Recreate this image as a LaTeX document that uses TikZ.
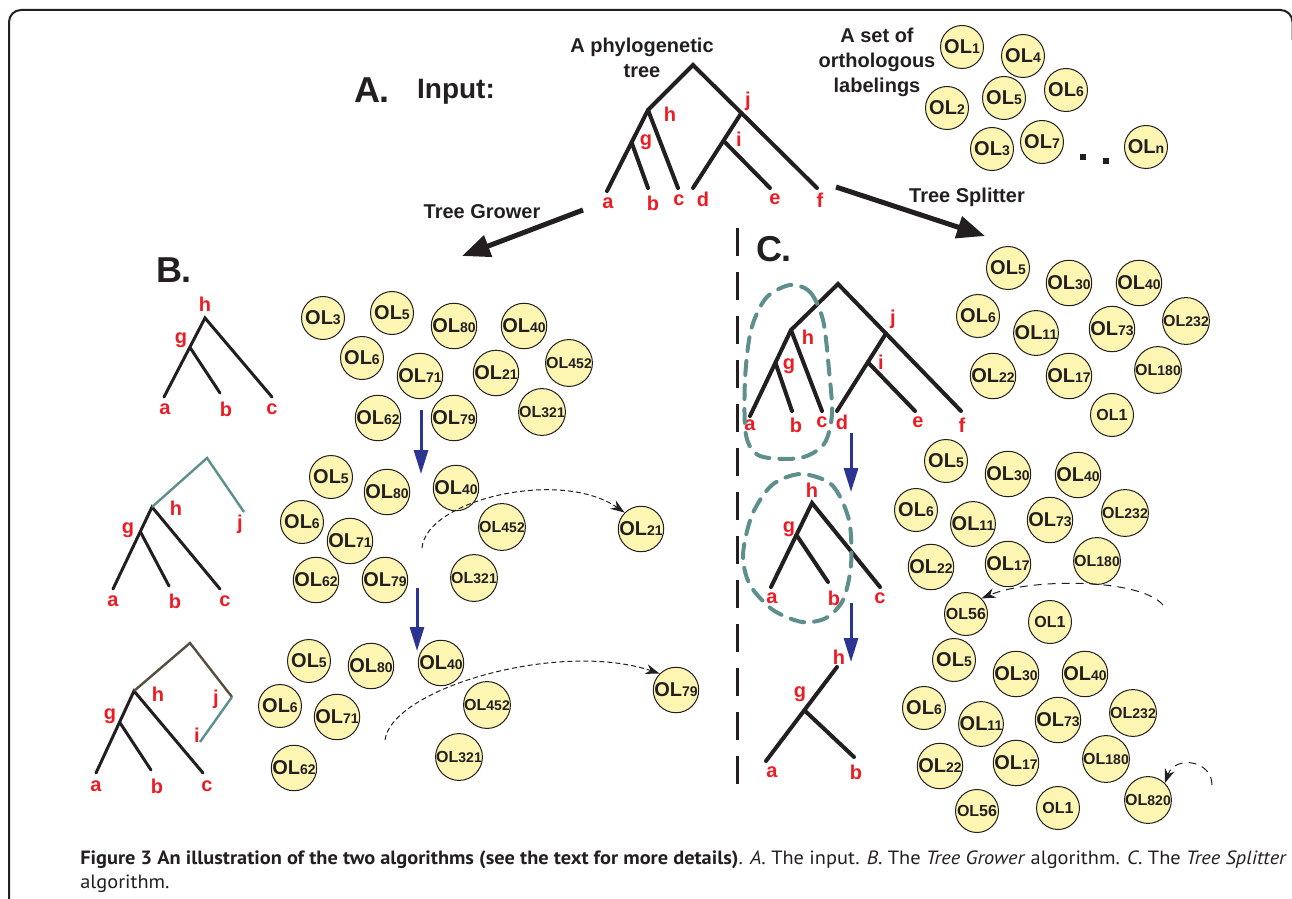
\documentclass[tikz,border=0pt]{standalone}
\usepackage{fontspec}
\setmainfont{Liberation Sans}
\newfontfamily\capfont{PT Sans}
\usetikzlibrary{positioning,arrows.meta,calc}

\definecolor{olfill}{RGB}{252,246,178}
\definecolor{labred}{RGB}{237,28,36}
\definecolor{clteal}{RGB}{93,143,140}
\definecolor{brn}{RGB}{88,78,64}
\definecolor{arrblue}{RGB}{43,52,145}
\definecolor{ink}{RGB}{35,31,32}

\newcommand{\ols}[1]{OL{\fontsize{7}{7}\selectfont #1}}

\tikzset{
  ol/.style={circle,draw=ink,line width=0.5pt,fill=olfill,minimum size=21.5pt,inner sep=0pt,text=ink,font=\bfseries\fontsize{10}{10}\selectfont},
  olsm/.style={ol,font=\bfseries\fontsize{8}{8}\selectfont},
  lab/.style={text=labred,inner sep=0pt,font=\bfseries\fontsize{10}{10}\selectfont},
  heading/.style={text=ink,inner sep=0pt,align=center,font=\bfseries\fontsize{10}{12.5}\selectfont},
  bigletter/.style={text=ink,inner sep=0pt,font=\bfseries\fontsize{18}{18}\selectfont},
  thickbr/.style={draw=ink,line width=2pt,line cap=round},
  thinbr/.style={draw=ink,line width=1.5pt,line cap=round},
  bigarrow/.style={draw=ink,line width=2.5pt,-{Triangle[length=14pt,width=11pt]}},
  bluearrow/.style={draw=arrblue,line width=1.5pt,-{Triangle[length=12pt,width=7pt]}},
  movearrow/.style={draw=ink,line width=0.5pt,dash pattern=on 2.5pt off 1.5pt,-{Stealth[length=7pt,width=5pt]}},
  movearrowc/.style={movearrow,dash pattern=on 4pt off 3pt},
  blob/.style={draw=clteal,line width=2pt,dash pattern=on 7pt off 5pt,line cap=round},
  dotsq/.style={fill=ink,minimum size=3pt,inner sep=0pt},
  captext/.style={anchor=base west,inner sep=0pt,text=ink,font=\capfont\fontsize{9.6}{11}\selectfont},
}

\begin{document}
\begin{tikzpicture}[x=0.5pt,y=-0.5pt]
\useasboundingbox (0,0) rectangle (1292,899);

% frame
\draw[ink,line width=1pt,rounded corners=6pt] (9,910) -- (9,10) -- (1292.5,10) -- (1292.5,40);

% A. input
\node[bigletter] (tA) at (372,90) {A.};
\node[bigletter,font=\bfseries\fontsize{14}{14}\selectfont] (tInput) at (456,92) {Input:};
\node[heading] (tPhylo) at (642,58) {A phylogenetic\\tree};
\node[heading] (tSet) at (877,62) {A set of\\orthologous\\labelings};

\coordinate (Aroot) at (693,65);
\coordinate (Ah) at (648,110);
\coordinate (Aa) at (607,191);
\coordinate (Ag) at ($(Ah)!0.4!(Aa)$);
\coordinate (Ab) at (648,188);
\coordinate (Ac) at (678,188);
\coordinate (Af) at (817,188);
\coordinate (Aj) at ($(Aroot)!0.39!(Af)$);
\coordinate (Ad) at (693,188);
\coordinate (Ai) at ($(Aj)!0.37!(Ad)$);
\coordinate (Ae) at (770,188);
\draw[thickbr] (Aa) -- (Ah) -- (Aroot) -- (Af);
\draw[thickbr] (Ag) -- (Ab);
\draw[thickbr] (Ah) -- (Ac);
\draw[thickbr] (Aj) -- (Ad);
\draw[thickbr] (Ai) -- (Ae);

\node[lab] (lAa) at (608,203) {a};
\node[lab] (lAb) at (653,203) {b};
\node[lab] (lAc) at (679,200) {c};
\node[lab] (lAd) at (703,199) {d};
\node[lab] (lAe) at (775,199) {e};
\node[lab] (lAf) at (820,200) {f};
\node[lab] (lAg) at (646,142) {g};
\node[lab] (lAh) at (670,114) {h};
\node[lab] (lAi) at (739,139) {i};
\node[lab] (lAj) at (748,101) {j};

\node[ol] (aol1) at (962,47) {\ols{1}};
\node[ol] (aol4) at (1023,56) {\ols{4}};
\node[ol] (aol6) at (1066,90) {\ols{6}};
\node[ol] (aol5) at (1004,98) {\ols{5}};
\node[ol] (aol2) at (947,108) {\ols{2}};
\node[ol] (aol3) at (992,149) {\ols{3}};
\node[ol] (aol7) at (1042,142) {\ols{7}};
\node[ol] (aoln) at (1146,147) {\ols{n}};
\node[dotsq] (dot1) at (1083,157) {};
\node[dotsq] (dot2) at (1106,161) {};

% the two algorithms
\coordinate (grS) at (583,210);
\coordinate (grE) at (462,256);
\coordinate (spS) at (836,187);
\coordinate (spE) at (985,236);
\draw[bigarrow] (grS) -- (grE);
\draw[bigarrow] (spS) -- (spE);
\node[heading] (tGrower) at (482,212) {Tree Grower};
\node[heading] (tSplitter) at (967,197) {Tree Splitter};

\coordinate (sepT) at (737,228);
\coordinate (sepB) at (737,790);
\draw[ink,line width=1.5pt,dash pattern=on 14pt off 8pt] (sepT) -- (sepB);

% B. tree grower
\node[bigletter] (tB) at (174,270) {B.};

\coordinate (B1h) at (205,318);
\coordinate (B1a) at (164,397);
\coordinate (B1g) at ($(B1h)!0.37!(B1a)$);
\coordinate (B1b) at (220,393);
\coordinate (B1c) at (272,397);
\draw[thinbr] (B1a) -- (B1h) -- (B1c);
\draw[thinbr] (B1g) -- (B1b);
\node[lab] (lB1h) at (205,304) {h};
\node[lab] (lB1g) at (181,340) {g};
\node[lab] (lB1a) at (165,409) {a};
\node[lab] (lB1b) at (226,409) {b};
\node[lab] (lB1c) at (272,409) {c};

\coordinate (B2top) at (207,458);
\coordinate (B2h) at (152,507);
\coordinate (B2j) at (244,512);
\coordinate (B2a) at (113,589);
\coordinate (B2g) at ($(B2h)!0.3!(B2a)$);
\coordinate (B2b) at (169,586);
\coordinate (B2c) at (220,589);
\draw[thinbr] (B2a) -- (B2h) -- (B2c);
\draw[thinbr] (B2g) -- (B2b);
\draw[clteal,line width=1.2pt] (B2h) -- (B2top) -- (B2j);
\node[lab] (lB2h) at (176,508) {h};
\node[lab] (lB2j) at (240,524) {j};
\node[lab] (lB2g) at (128,530) {g};
\node[lab] (lB2a) at (113,601) {a};
\node[lab] (lB2b) at (175,601) {b};
\node[lab] (lB2c) at (225,601) {c};

\coordinate (B3top) at (190,643);
\coordinate (B3h) at (134,691);
\coordinate (B3j) at (232,697);
\coordinate (B3i) at (200,742);
\coordinate (B3a) at (96,773);
\coordinate (B3g) at ($(B3h)!0.38!(B3a)$);
\coordinate (B3b) at (151,770);
\coordinate (B3c) at (203,773);
\draw[thinbr] (B3a) -- (B3h) -- (B3c);
\draw[thinbr] (B3g) -- (B3b);
\draw[brn,line width=1.2pt] (B3h) -- (B3top) -- (B3j);
\draw[clteal,line width=1.2pt] (B3j) -- (B3i);
\node[lab] (lB3h) at (158,694) {h};
\node[lab] (lB3j) at (216,699) {j};
\node[lab] (lB3i) at (197,735) {i};
\node[lab] (lB3g) at (110,716) {g};
\node[lab] (lB3a) at (96,786) {a};
\node[lab] (lB3b) at (157,786) {b};
\node[lab] (lB3c) at (207,786) {c};

\node[ol] (b1ol3) at (323,318) {\ols{3}};
\node[ol] (b1ol5) at (392,313) {\ols{5}};
\node[ol] (b1ol80) at (454,326) {\ols{80}};
\node[ol] (b1ol40) at (524,326) {\ols{40}};
\node[ol] (b1ol6) at (362,358) {\ols{6}};
\node[ol] (b1ol71) at (420,376) {\ols{71}};
\node[ol] (b1ol21) at (496,373) {\ols{21}};
\node[olsm] (b1ol452) at (569,363) {\ols{452}};
\node[ol] (b1ol62) at (378,418) {\ols{62}};
\node[ol] (b1ol79) at (454,418) {\ols{79}};
\node[olsm] (b1ol321) at (542,412) {\ols{321}};

\node[ol] (b2ol5) at (331,477) {\ols{5}};
\node[ol] (b2ol80) at (387,492) {\ols{80}};
\node[ol] (b2ol40) at (456,488) {\ols{40}};
\node[ol] (b2ol6) at (302,522) {\ols{6}};
\node[ol] (b2ol71) at (350,541) {\ols{71}};
\node[olsm] (b2ol452) at (502,527) {\ols{452}};
\node[ol] (b2ol62) at (316,580) {\ols{62}};
\node[ol] (b2ol79) at (385,580) {\ols{79}};
\node[olsm] (b2ol321) at (474,578) {\ols{321}};
\node[ol] (b2ol21) at (641,529) {\ols{21}};

\node[ol] (b3ol5) at (309,661) {\ols{5}};
\node[ol] (b3ol80) at (371,666) {\ols{80}};
\node[ol] (b3ol40) at (441,663) {\ols{40}};
\node[ol] (b3ol6) at (280,706) {\ols{6}};
\node[ol] (b3ol71) at (337,717) {\ols{71}};
\node[olsm] (b3ol452) at (487,705) {\ols{452}};
\node[ol] (b3ol62) at (294,768) {\ols{62}};
\node[olsm] (b3ol321) at (459,757) {\ols{321}};
\node[ol] (b3ol79) at (676,690) {\ols{79}};

\coordinate (bl1S) at (421,410);
\coordinate (bl1E) at (421,474);
\coordinate (bl2S) at (417,588);
\coordinate (bl2E) at (417,651);
\draw[bluearrow] (bl1S) -- (bl1E);
\draw[bluearrow] (bl2S) -- (bl2E);

\coordinate (mv1S) at (422,548);
\coordinate (mv2S) at (385,740);
\draw[movearrow] (mv1S) .. controls (426,500) and (560,468) .. (b2ol21.north west);
\draw[movearrow] (mv2S) .. controls (392,688) and (560,640) .. (b3ol79.north west);

% C. tree splitter
\node[bigletter] (tC) at (774,249) {C.};

\coordinate (C1root) at (838,284);
\coordinate (C1h) at (791,330);
\coordinate (C1a) at (750,416);
\coordinate (C1g) at ($(C1h)!0.38!(C1a)$);
\coordinate (C1b) at (792,411);
\coordinate (C1c) at (822,411);
\coordinate (C1f) at (961,411);
\coordinate (C1j) at ($(C1root)!0.39!(C1f)$);
\coordinate (C1d) at (837,411);
\coordinate (C1i) at ($(C1j)!0.37!(C1d)$);
\coordinate (C1e) at (915,411);
\draw[thickbr] (C1a) -- (C1h) -- (C1root) -- (C1f);
\draw[thickbr] (C1g) -- (C1b);
\draw[thickbr] (C1h) -- (C1c);
\draw[thickbr] (C1j) -- (C1d);
\draw[thickbr] (C1i) -- (C1e);
\node[lab] (lC1h) at (808,337) {h};
\node[lab] (lC1g) at (789,366) {g};
\node[lab] (lC1i) at (881,362) {i};
\node[lab] (lC1j) at (893,319) {j};
\node[lab] (lC1a) at (750,425) {a};
\node[lab] (lC1b) at (796,425) {b};
\node[lab] (lC1c) at (822,422) {c};
\node[lab] (lC1d) at (842,422) {d};
\node[lab] (lC1e) at (918,422) {e};
\node[lab] (lC1f) at (962,425) {f};
\draw[blob] plot[smooth cycle] coordinates {(790,285) (810,292) (823,320) (829,370) (832,414) (824,444) (800,458) (760,456) (746,435) (745,380) (751,330) (766,298)};

\coordinate (C2h) at (812,503);
\coordinate (C2a) at (771,587);
\coordinate (C2g) at ($(C2h)!0.38!(C2a)$);
\coordinate (C2b) at (828,582);
\coordinate (C2c) at (880,587);
\draw[thickbr] (C2a) -- (C2h) -- (C2c);
\draw[thickbr] (C2g) -- (C2b);
\node[lab] (lC2h) at (812,490) {h};
\node[lab] (lC2g) at (789,529) {g};
\node[lab] (lC2a) at (772,598) {a};
\node[lab] (lC2b) at (834,598) {b};
\node[lab] (lC2c) at (880,598) {c};
\draw[blob] plot[smooth cycle] coordinates {(801,474) (832,485) (849,520) (851,565) (843,600) (826,618) (802,622) (773,610) (750,585) (743,555) (752,515) (772,485)};

\coordinate (C3h) at (837,667);
\coordinate (C3a) at (766,761);
\coordinate (C3g) at ($(C3h)!0.46!(C3a)$);
\coordinate (C3b) at (854,757);
\draw[thickbr] (C3a) -- (C3h);
\draw[thickbr] (C3g) -- (C3b);
\node[lab] (lC3h) at (839,657) {h};
\node[lab] (lC3g) at (800,694) {g};
\node[lab] (lC3a) at (772,772) {a};
\node[lab] (lC3b) at (856,772) {b};

\coordinate (cb1S) at (851,433);
\coordinate (cb1E) at (851,492);
\coordinate (cb2S) at (851,603);
\coordinate (cb2E) at (851,662);
\draw[bluearrow] (cb1S) -- (cb1E);
\draw[bluearrow] (cb2S) -- (cb2E);

\node[ol] (c1ol5) at (1008,268) {\ols{5}};
\node[ol] (c1ol30) at (1069,283) {\ols{30}};
\node[ol] (c1ol40) at (1139,283) {\ols{40}};
\node[ol] (c1ol6) at (978,316) {\ols{6}};
\node[ol] (c1ol11) at (1036,333) {\ols{11}};
\node[ol] (c1ol73) at (1112,329) {\ols{73}};
\node[olsm] (c1ol232) at (1186,321) {\ols{232}};
\node[ol] (c1ol22) at (993,376) {\ols{22}};
\node[ol] (c1ol17) at (1069,376) {\ols{17}};
\node[olsm] (c1ol180) at (1158,370) {\ols{180}};
\node[olsm] (c1ol1) at (1112,415) {OL1};

\node[ol] (c2ol5) at (946,461) {\ols{5}};
\node[ol] (c2ol30) at (1008,474) {\ols{30}};
\node[ol] (c2ol40) at (1078,475) {\ols{40}};
\node[ol] (c2ol6) at (916,510) {\ols{6}};
\node[ol] (c2ol11) at (973,524) {\ols{11}};
\node[ol] (c2ol73) at (1050,520) {\ols{73}};
\node[olsm] (c2ol232) at (1125,513) {\ols{232}};
\node[ol] (c2ol22) at (931,567) {\ols{22}};
\node[ol] (c2ol17) at (1008,564) {\ols{17}};
\node[olsm] (c2ol180) at (1097,561) {\ols{180}};
\node[olsm] (c2ol56) at (966,614) {OL56};
\node[olsm] (c2ol1) at (1050,622) {OL1};

\node[ol] (c3ol5) at (954,660) {\ols{5}};
\node[ol] (c3ol30) at (1016,674) {\ols{30}};
\node[ol] (c3ol40) at (1085,674) {\ols{40}};
\node[ol] (c3ol6) at (924,708) {\ols{6}};
\node[ol] (c3ol11) at (981,724) {\ols{11}};
\node[ol] (c3ol73) at (1058,720) {\ols{73}};
\node[olsm] (c3ol232) at (1133,713) {\ols{232}};
\node[ol] (c3ol22) at (940,766) {\ols{22}};
\node[ol] (c3ol17) at (1016,763) {\ols{17}};
\node[olsm] (c3ol180) at (1106,759) {\ols{180}};
\node[olsm] (c3ol56) at (977,811) {OL56};
\node[olsm] (c3ol1) at (1058,808) {OL1};
\node[olsm] (c3ol820) at (1148,800) {\ols{820}};

\coordinate (mv3S) at (1163,605);
\coordinate (mv4S) at (1212,785);
\draw[movearrowc] (mv3S) .. controls (1140,578) and (1030,578) .. (c2ol56.north east);
\draw[movearrowc] (mv4S) .. controls (1212,760) and (1175,755) .. (c3ol820.north east);

% caption
\node[captext] (cap1) at (80,864) {\scalebox{1.06}[1]{{\bfseries Figure 3 An illustration of the two algorithms (see the text for more details)}. \textit{A}. The input. \textit{B}. The \textit{Tree Grower} algorithm. \textit{C}. The \textit{Tree Splitter}}};
\node[captext] (cap2) at (80,888) {\scalebox{1.06}[1]{algorithm.}};

\end{tikzpicture}
\end{document}
